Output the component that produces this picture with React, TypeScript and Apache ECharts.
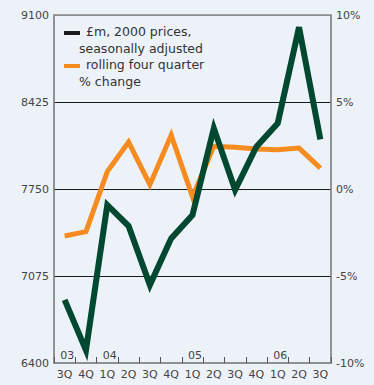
import React, { useEffect, useRef } from "react";
import * as echarts from "echarts";

const quarters = ["3Q03", "4Q03", "1Q04", "2Q04", "3Q04", "4Q04", "1Q05", "2Q05", "3Q05", "4Q05", "1Q06", "2Q06", "3Q06"];
const yearLabels = ["03", "", "04", "", "", "", "05", "", "", "", "06", "", ""];
const gdpValues = [6890, 6500, 7626, 7463, 7005, 7367, 7548, 8221, 7742, 8078, 8260, 9005, 8135];
const growthValues = [-2.7, -2.45, 1.0, 2.7, 0.25, 3.1, -0.45, 2.45, 2.4, 2.3, 2.25, 2.35, 1.2];
const leftTicks = [6400, 7075, 7750, 8425, 9100];
const legendLines = [
  ["£m, 2000 prices,", "seasonally adjusted"],
  ["rolling four quarter", "% change"],
];

const GREEN = "#00482f";
const ORANGE = "#f68b1f";
const BG = "#edf2f9";
const FONT = "DejaVu Sans";

export default function App() {
  const ref = useRef<HTMLDivElement>(null);
  useEffect(() => {
    document.body.style.margin = "0";
    document.body.style.background = BG;
    const chart = echarts.init(ref.current!, null, { renderer: "svg" });
    const textStyle = { fontFamily: FONT, fontSize: 12.5, fill: "#333" };
    chart.setOption({
      animation: false,
      backgroundColor: BG,
      textStyle: { fontFamily: FONT },
      grid: {
        left: 54,
        right: 43,
        top: 15,
        bottom: 22,
        show: true,
        borderColor: "#8c8c8c",
        borderWidth: 1.5,
        backgroundColor: "transparent",
      },
      xAxis: [
        {
          type: "category",
          position: "bottom",
          data: quarters,
          boundaryGap: true,
          axisLine: { show: true, onZero: false, lineStyle: { color: "#8c8c8c", width: 1.5 } },
          axisTick: { show: true, inside: true, length: 6, interval: 0, lineStyle: { color: "#555", width: 1 } },
          axisLabel: {
            interval: 0,
            margin: 6,
            color: "#444",
            fontFamily: FONT,
            fontSize: 11,
            formatter: (v: string) => v.slice(0, 2),
          },
          splitLine: { show: false },
        },
        {
          type: "category",
          position: "bottom",
          data: quarters,
          boundaryGap: true,
          axisLine: { show: false, onZero: false },
          axisTick: { show: false },
          axisLabel: {
            inside: true,
            interval: 0,
            margin: 2,
            color: "#444",
            fontFamily: FONT,
            fontSize: 11,
            padding: [0, 0, 0, 5],
            formatter: (_v: string, i: number) => yearLabels[i],
          },
          splitLine: { show: false },
        },
      ],
      yAxis: [
        {
          type: "value",
          position: "left",
          min: 6400,
          max: 9100,
          axisLine: { show: true, onZero: false, lineStyle: { color: "#8c8c8c", width: 1.5 } },
          axisTick: { show: false },
          splitLine: { show: false },
          axisLabel: {
            customValues: leftTicks,
            margin: 5,
            color: "#444",
            fontFamily: FONT,
            fontSize: 11,
            formatter: (v: number) => String(v),
          },
        },
        {
          type: "value",
          position: "right",
          min: -10,
          max: 10,
          interval: 5,
          axisLine: { show: true, onZero: false, lineStyle: { color: "#8c8c8c", width: 1.5 } },
          axisTick: { show: false },
          splitLine: {
            show: true,
            lineStyle: { color: ["#8c8c8c", "#1a1a1a", "#1a1a1a", "#1a1a1a", "#8c8c8c"], width: 1 },
          },
          axisLabel: {
            margin: 5,
            color: "#444",
            fontFamily: FONT,
            fontSize: 11,
            formatter: (v: number) => v + "%",
          },
        },
      ],
      series: [
        {
          name: "growth",
          type: "line",
          xAxisIndex: 0,
          yAxisIndex: 1,
          data: growthValues,
          symbol: "none",
          lineStyle: { color: ORANGE, width: 5, join: "miter" },
          itemStyle: { color: ORANGE },
        },
        {
          name: "gdp",
          type: "line",
          xAxisIndex: 0,
          yAxisIndex: 0,
          data: gdpValues,
          symbol: "none",
          lineStyle: { color: GREEN, width: 6, join: "miter" },
          itemStyle: { color: GREEN },
        },
      ],
      graphic: [
        { type: "rect", left: 64, top: 31, shape: { width: 16, height: 4 }, style: { fill: "#1a1a1a" } },
        { type: "text", left: 86, top: 25, style: { ...textStyle, text: legendLines[0][0] } },
        { type: "text", left: 79, top: 41.5, style: { ...textStyle, text: legendLines[0][1] } },
        { type: "rect", left: 64, top: 64, shape: { width: 16, height: 4 }, style: { fill: ORANGE } },
        { type: "text", left: 86, top: 58, style: { ...textStyle, text: legendLines[1][0] } },
        { type: "text", left: 79, top: 74.5, style: { ...textStyle, text: legendLines[1][1] } },
      ],
    });
    return () => chart.dispose();
  }, []);
  return <div ref={ref} style={{ width: 374, height: 385, background: BG }} />;
}
